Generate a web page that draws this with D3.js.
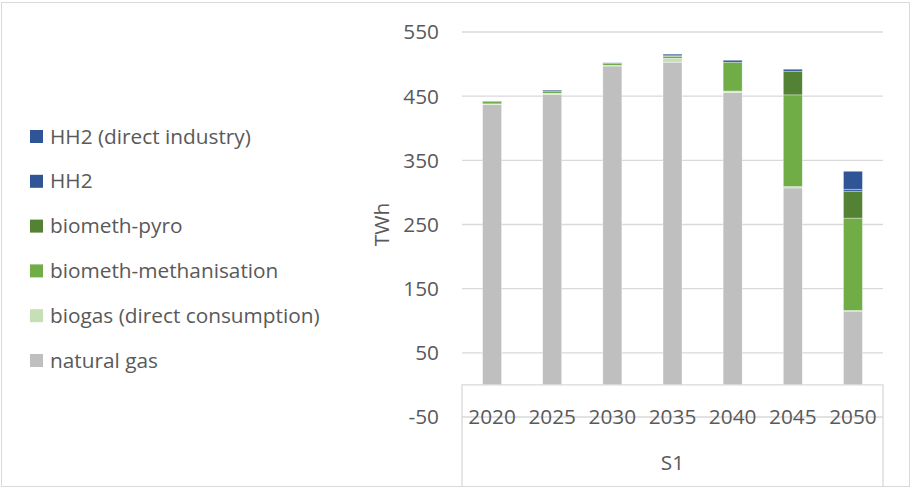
<!DOCTYPE html>
<html>
<head>
<meta charset="utf-8">
<script src="https://cdn.jsdelivr.net/npm/d3@7"></script>
<style>
  body { margin: 0; background: #fff; }
  text { font-family: "Open Sans", sans-serif; fill: #595959; }
</style>
</head>
<body>
<div id="plot"></div>
<script>
// values (TWh)
const years = ["2020", "2025", "2030", "2035", "2040", "2045", "2050"];
const naturalGas    = [437, 453, 497, 503, 456, 307, 115];
const biogas        = [1, 1.5, 1, 6, 2, 2, 1];
const methanisation = [4, 3.5, 3, 3, 45, 143, 144];
const pyro          = [0, 0, 0, 1, 0, 37, 42];
const hh2           = [0.5, 1.5, 1, 2.5, 3, 3, 3];
const hh2Industry   = [0, 0, 0, 0, 0, 0, 28];
const yTicks = [550, 450, 350, 250, 150, 50, -50];

const seriesNames = ["natural gas", "biogas (direct consumption)", "biometh-methanisation",
                     "biometh-pyro", "HH2", "HH2 (direct industry)"];
const seriesValues = [naturalGas, biogas, methanisation, pyro, hh2, hh2Industry];
const colors = ["#BFBFBF", "#C5E0B4", "#70AD47", "#548235", "#2F5597", "#2F5597"];

const width = 912, height = 488;
const fontSize = "20.8px";

const svg = d3.select("div#plot")
  .append("svg")
    .attr("width", width)
    .attr("height", height);

// chart border
svg.append("rect")
  .attr("x", 1.5).attr("y", 2.5)
  .attr("width", 908).attr("height", 484)
  .attr("fill", "none")
  .attr("stroke", "#D9D9D9");

const x = d3.scaleBand()
  .domain(years)
  .range([462, 883])
  .paddingInner(0.684)
  .paddingOuter(0.342);

const y = d3.scaleLinear()
  .domain([-50, 550])
  .range([417, 32]);

// gridlines
svg.selectAll(".grid")
  .data(yTicks)
  .join("line")
  .attr("class", "grid")
  .attr("x1", 462).attr("x2", 883)
  .attr("y1", d => y(d)).attr("y2", d => y(d))
  .attr("stroke", "#D9D9D9")
  .attr("stroke-width", 1.3);

// y tick labels
svg.selectAll(".ytick")
  .data(yTicks)
  .join("text")
  .attr("class", "ytick")
  .attr("x", 439)
  .attr("y", d => y(d))
  .attr("dy", "0.36em")
  .attr("text-anchor", "end")
  .style("font-size", fontSize)
  .text(d => d);

// y axis title
svg.append("text")
  .attr("transform", `translate(389, ${y(250)}) rotate(-90)`)
  .attr("text-anchor", "middle")
  .style("font-size", fontSize)
  .text("TWh");

// stacked bars
const table = years.map((yr, i) => {
  const row = { year: yr };
  seriesNames.forEach((s, j) => { row[s] = seriesValues[j][i]; });
  return row;
});
const stacked = d3.stack().keys(seriesNames)(table);

const groups = svg.selectAll(".series")
  .data(stacked)
  .join("g")
  .attr("class", "series")
  .attr("fill", (d, i) => colors[i]);

groups.selectAll("rect")
  .data(d => d)
  .join("rect")
  .attr("x", d => x(d.data.year))
  .attr("width", x.bandwidth())
  .attr("y", d => y(d[1]))
  .attr("height", d => y(d[0]) - y(d[1]))
  .attr("stroke", "#ffffff")
  .attr("stroke-opacity", 0.6)
  .attr("stroke-width", 0.6);

// category axis box
const zeroY = y(0);
svg.append("path")
  .attr("d", `M462,486 V${zeroY} H883 V486`)
  .attr("fill", "none")
  .attr("stroke", "#D9D9D9")
  .attr("stroke-width", 1.3);

svg.selectAll(".xtick")
  .data(years)
  .join("text")
  .attr("class", "xtick")
  .attr("x", d => x(d) + x.bandwidth() / 2)
  .attr("y", 424)
  .attr("text-anchor", "middle")
  .style("font-size", fontSize)
  .text(d => d);

svg.append("text")
  .attr("x", (462 + 883) / 2)
  .attr("y", 470)
  .attr("text-anchor", "middle")
  .style("font-size", fontSize)
  .text("S1");

// legend (reversed order, top = last series)
const legendNames = seriesNames.slice().reverse();
const legendColors = colors.slice().reverse();
const legend = svg.selectAll(".legend")
  .data(legendNames)
  .join("g")
  .attr("class", "legend")
  .attr("transform", (d, i) => `translate(30, ${136 + i * 44.8})`);

legend.append("rect")
  .attr("x", 0).attr("y", -6)
  .attr("width", 13).attr("height", 13)
  .attr("fill", (d, i) => legendColors[i]);

legend.append("text")
  .attr("x", 20)
  .attr("dy", "0.36em")
  .style("font-size", fontSize)
  .text(d => d);
</script>
</body>
</html>
